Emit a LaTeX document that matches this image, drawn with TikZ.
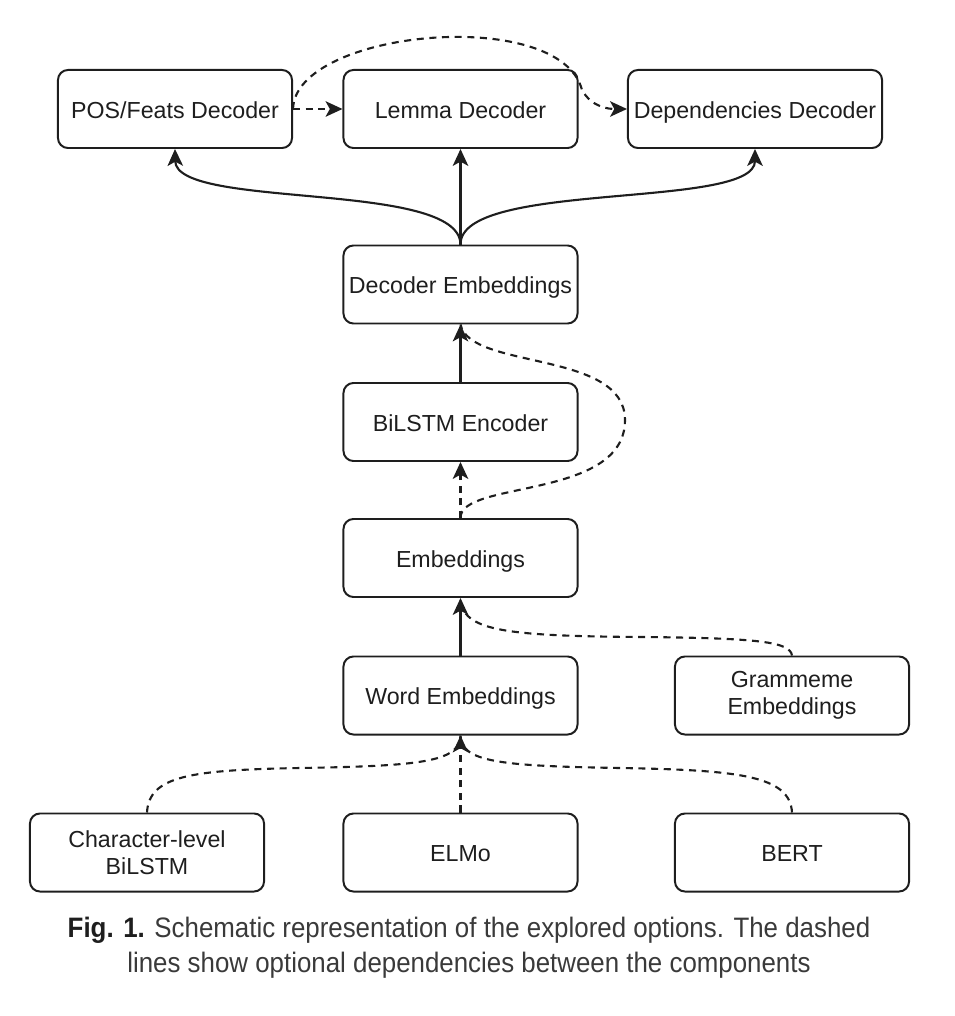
\documentclass[tikz,border=0pt]{standalone}
\usepackage{fontspec}
\setmainfont{Liberation Sans}
\newfontfamily\captionfont[FakeStretch=0.92]{Liberation Sans}
\usepackage{xcolor}
\definecolor{line-black}{HTML}{1E1E1E}
\definecolor{caption-gray}{HTML}{3A3A3A}
\usetikzlibrary{arrows.meta}

\tikzset{
    box/.style={draw=line-black, line width=1.4pt, rounded corners=0.25cm,
        minimum width=5.85cm, minimum height=1.95cm, inner xsep=2pt,
        align=center, text=line-black, font=\fontsize{16.5}{19.5}\selectfont},
    oneline/.style={box, text height=14pt, text depth=0.8pt},
    link/.style={draw=line-black, line width=1.5pt, -{Stealth[length=12pt,width=11pt,inset=3pt]}},
    optional/.style={link, dash pattern=on 5pt off 4pt},
}

\begin{document}
\begin{tikzpicture}[x=0.025cm, y=-0.025cm]

    % Page
    \useasboundingbox (0, 0) rectangle (954, 1016);

    % Decoders
    \node[oneline] (posfeats) at (175, 109) {POS/Feats Decoder};
    \node[oneline] (lemma) at (460.5, 109) {Lemma Decoder};
    \node[oneline, minimum width=6.35cm] (deps) at (755, 109) {Dependencies Decoder};

    % Encoder stack
    \node[oneline] (decemb) at (460.5, 284.5) {Decoder Embeddings};
    \node[oneline] (bilstm) at (460.5, 422) {BiLSTM Encoder};
    \node[oneline] (emb) at (460.5, 558) {Embeddings};
    \node[oneline] (wordemb) at (460.5, 695.5) {Word Embeddings};
    \node[box] (gramemb) at (792, 695.5) {Grammeme\\Embeddings};

    % Inputs
    \node[box] (charlstm) at (147, 852.5) {Character-level\\BiLSTM};
    \node[oneline] (elmo) at (460.5, 852.5) {ELMo};
    \node[oneline] (bert) at (792, 852.5) {BERT};

    % Decoder links
    \draw[optional] (posfeats.east) -- (lemma.west);
    \draw[optional] (posfeats.east) .. controls (295, 30) and (560, 5) .. (582, 90)
                 .. controls (592, 108) and (610, 109) .. (deps.west);

    \draw[link] (decemb.north) -- (lemma.south);
    \draw[link] (decemb.north) .. controls (460, 180) and (176, 210) .. (posfeats.south);
    \draw[link] (decemb.north) .. controls (460, 180) and (755, 210) .. (deps.south);

    % Encoder links
    \draw[link] (bilstm.north) -- (decemb.south);
    \draw[optional] (emb.north) -- (bilstm.south);
    \draw[optional, -] (emb.north) .. controls (460, 480) and (625, 500) .. (625, 420)
                 .. controls (625, 350) and (470, 370) .. (decemb.south);

    \draw[link] (wordemb.north) -- (emb.south);
    \draw[optional, -] (gramemb.north) .. controls (790, 642) and (760, 638) .. (640, 637)
                 .. controls (500, 636) and (462, 630) .. (emb.south);

    % Input links
    \draw[optional] (elmo.north) -- (wordemb.south);
    \draw[optional, -] (charlstm.north) .. controls (149, 776) and (190, 770) .. (300, 768)
                 .. controls (420, 766) and (460, 762) .. (wordemb.south);
    \draw[optional, -] (bert.north) .. controls (790, 776) and (740, 770) .. (620, 768)
                 .. controls (500, 766) and (461, 762) .. (wordemb.south);

    % Caption
    \node[align=center, text=caption-gray, font=\captionfont\fontsize{20}{25}\selectfont] (caption) at (469, 948)
        {\textbf{\color{line-black}Fig. 1.} Schematic representation of the explored options. The dashed\\
         lines show optional dependencies between the components};

\end{tikzpicture}
\end{document}
